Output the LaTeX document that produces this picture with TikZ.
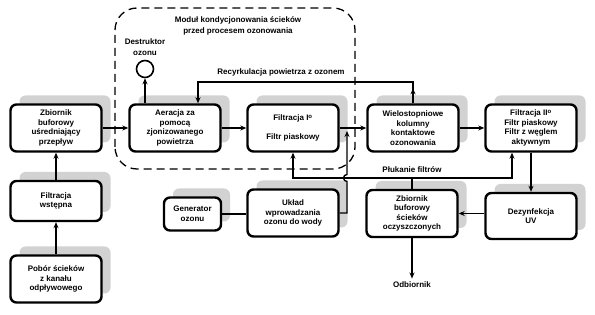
\documentclass[tikz,border=0pt]{standalone}
\usepackage{fontspec}
\setmainfont{Liberation Sans}
\usetikzlibrary{arrows.meta,shadows}
\begin{document}
\begin{tikzpicture}[x=1pt,y=1pt,
    box/.style={draw,fill=white,line width=2.4pt,rounded corners=6pt,
      minimum width=91pt,minimum height=47pt,align=center,inner sep=1pt,
      font=\bfseries\fontsize{8}{9.5}\selectfont,
      general shadow={fill=gray!35,shadow xshift=9pt,shadow yshift=9pt}},
    lbl/.style={font=\bfseries\fontsize{8}{11}\selectfont,align=center},
    flow/.style={line width=1.4pt,-{Stealth[length=6pt,width=5pt]}},
    link/.style={line width=1.4pt}]
  \useasboundingbox (0,0) rectangle (595,315);
  % module boundary
  \draw[line width=1.3pt,dash pattern=on 8pt off 5pt,rounded corners=22pt]
    (115,146) rectangle (355,307);
  \node[lbl] (tit) at (238,289) {Moduł kondycjonowania ścieków\\przed procesem ozonowania};
  % left column
  \node[box] (pob) at (56,36) {Pobór ścieków\\z kanału\\odpływowego};
  \node[box,minimum height=40pt] (fw) at (56,114) {Filtracja\\wstępna};
  \node[box] (zb) at (56,187) {Zbiornik\\buforowy\\uśredniający\\przepływ};
  % top row
  \node[box] (aer) at (175,187) {Aeracja za\\pomocą\\zjonizowanego\\powietrza};
  \node[box] (f1) at (293,187) {Filtracja I\textsuperscript{o}\\[9pt]Filtr piaskowy};
  \node[box] (wiel) at (413,187) {Wielostopniowe\\kolumny\\kontaktowe\\ozonowania};
  \node[box] (f2) at (531,187) {Filtracja II\textsuperscript{o}\\Filtr piaskowy\\Filtr z węglem\\aktywnym};
  % bottom row
  \node[box,minimum width=57pt,minimum height=33pt] (gen) at (192.5,101) {Generator\\ozonu};
  \node[box] (ukl) at (293,102) {Układ\\wprowadzania\\ozonu do wody};
  \node[box] (zbo) at (412,101.5) {Zbiornik\\buforowy\\ścieków\\oczyszczonych};
  \node[box,minimum height=46pt] (dez) at (531,99) {Dezynfekcja\\UV};
  \node[lbl] (odb) at (412,30) {Odbiornik};
  % ozone destructor
  \node[circle,draw,line width=1.6pt,minimum size=17pt,inner sep=0pt] (des) at (145,246) {};
  \node[lbl] (desl) at (145,268) {Destruktor\\ozonu};
  % main flow
  \draw[flow] (pob) -- (fw);
  \draw[flow] (fw) -- (zb);
  \draw[flow] (zb) -- (aer);
  \draw[flow] (aer) -- (f1);
  \draw[flow] (f1) -- (wiel);
  \draw[flow] (wiel) -- (f2);
  \draw[flow] (f2) -- (f2 |- dez.north);
  \draw[flow] (dez.west |- zbo.east) -- (zbo.east);
  \draw[flow] (zbo) -- (odb);
  \draw[flow] (des |- aer.north) -- (des.south);
  % air recirculation
  \coordinate (rec) at (198,233);
  \node[lbl] (recl) at (281,243) {Recyrkulacja powietrza z ozonem};
  \draw[flow] (wiel.north) |- (rec) -- (rec |- aer.north);
  \draw[flow] (wiel.north) -- ++(0,15);
  % filter rinsing
  \coordinate (pk) at (412,137);
  \node[lbl] (plk) at (412,145) {Płukanie filtrów};
  \draw[flow] (zbo.north) -- (pk) -| (f1.south);
  \draw[flow] (pk) -| ([xshift=-19pt]f2.south);
  % ozone feed
  \draw[link] (gen.east) -- (gen.east -| ukl.west);
  \coordinate (oz) at (347,137);
  \draw[flow] (ukl.east) -| ([yshift=-3.5pt]oz)
    arc[start angle=-90,end angle=-270,radius=3.5pt] -- (347,184);
\end{tikzpicture}
\end{document}
